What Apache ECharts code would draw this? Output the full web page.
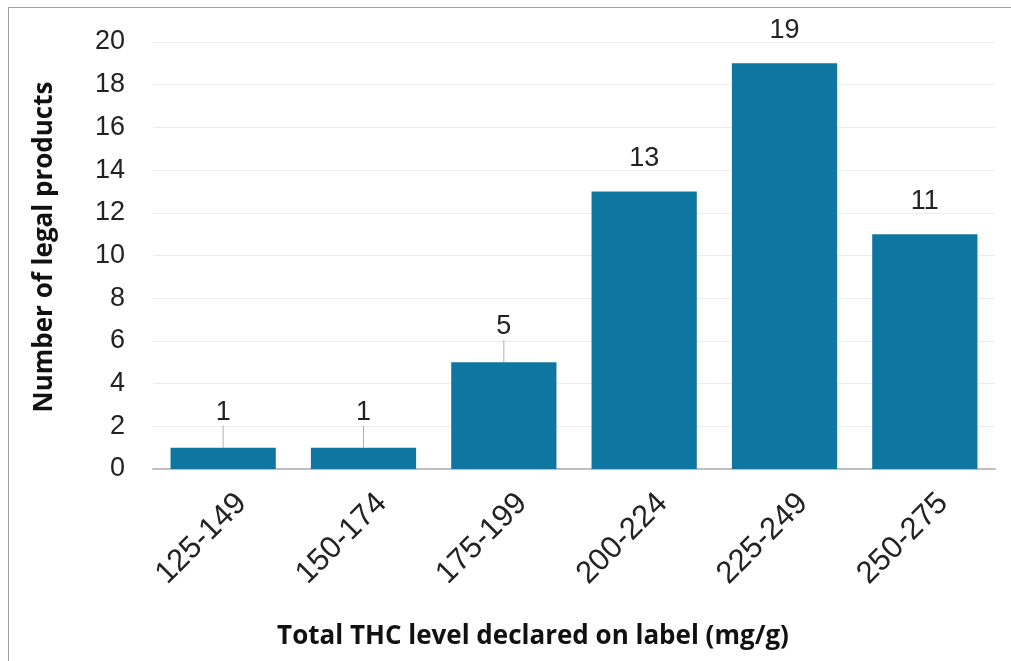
<!DOCTYPE html>
<html><head><meta charset="utf-8">
<script src="https://cdn.jsdelivr.net/npm/echarts@6/dist/echarts.min.js"></script>
<style>
html,body{margin:0;padding:0;background:#fff;}
#wrap{position:relative;width:1011px;height:661px;overflow:hidden;}
#frame{position:absolute;left:8px;top:7px;width:1010px;height:700px;border:1.5px solid #a0a0a0;box-sizing:border-box;}
#chart{position:absolute;left:0;top:0;width:1011px;height:661px;}
</style>
</head><body>
<div id="wrap"><div id="frame"></div><div id="chart"></div></div>
<script>
const categories = ['125-149','150-174','175-199','200-224','225-249','250-275'];
const counts = [1, 1, 5, 13, 19, 11];
const yTicks = [0,2,4,6,8,10,12,14,16,18,20];
const xTitle = 'Total THC level declared on label (mg/g)';
const yTitle = 'Number of legal products';

const chart = echarts.init(document.getElementById('chart'), null, {renderer:'canvas'});
const baseFont = 'Liberation Sans, Arial, sans-serif';
const titleFont = 'Open Sans, Lato, sans-serif';
chart.setOption({
  animation:false,
  grid:{left:153, right:16, top:42, bottom:192},
  xAxis:{type:'category', data:categories,
    axisLine:{lineStyle:{color:'#bfbfbf', width:2}},
    axisTick:{show:false},
    axisLabel:{rotate:45, margin:48, padding:[0,-26,0,0], color:'#222', fontSize:31, fontFamily:baseFont}
  },
  yAxis:{type:'value', min:0, max:20, interval:2,
    axisLine:{show:false}, axisTick:{show:false},
    splitLine:{lineStyle:{color:'#ececec', width:1}},
    axisLabel:{margin:28, color:'#222', fontSize:27, fontFamily:baseFont,
      formatter:v=> yTicks.includes(v) ? String(v) : ''}
  },
  graphic:[
    {type:'text', style:{text:xTitle, x:533, y:637, textAlign:'center', textVerticalAlign:'middle', fontSize:26, fontWeight:'bold', fontFamily:titleFont, fill:'#111'}},
    {type:'text', x:45, y:247, rotation:Math.PI/2, style:{text:yTitle, textAlign:'center', textVerticalAlign:'middle', fontSize:26, fontWeight:'bold', fontFamily:titleFont, fill:'#111'}}
  ],
  series:[{type:'bar', data:counts.map((v,i)=>({value:v, labelLine:{show:i<3}})),
    barCategoryGap:'25%',
    itemStyle:{color:'#0E76A0'},
    label:{show:true, position:'top', distance:4, fontSize:27, color:'#222', fontFamily:baseFont},
    labelLayout:function(p){ return p.dataIndex<3 ? {dy:-18} : {dy:-15}; },
    labelLine:{show:false, lineStyle:{color:'#b0b0b0', width:1}}
  }]
});
</script>
</body></html>
